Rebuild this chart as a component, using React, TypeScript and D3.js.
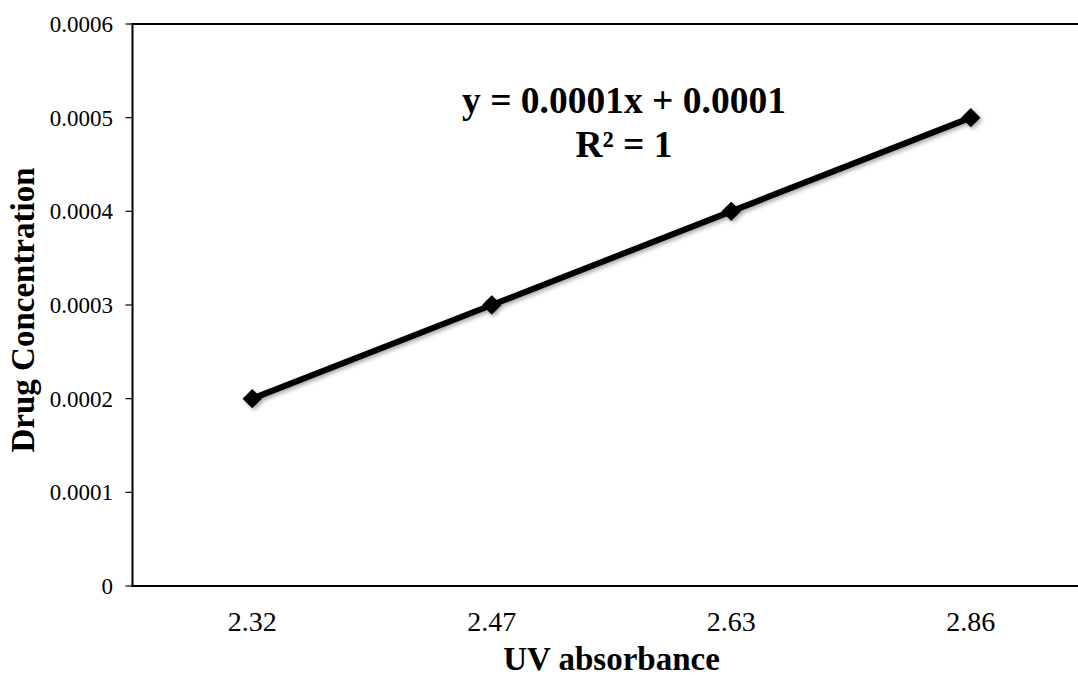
import React from "react";
import * as d3 from "d3";

const categories: string[] = ["2.32", "2.47", "2.63", "2.86"];
const concentration: number[] = [0.0002, 0.0003, 0.0004, 0.0005];
const yTicks: number[] = [0, 0.0001, 0.0002, 0.0003, 0.0004, 0.0005, 0.0006];
const equationLines: string[] = ["y = 0.0001x + 0.0001", "R² = 1"];

const W = 1078;
const H = 677;
const margin = { left: 132.5, top: 24, bottomY: 586, right: 1090.5 };
const FONT = "'Liberation Serif', 'Times New Roman', serif";

export default function App() {
  const x = d3
    .scaleBand<string>()
    .domain(categories)
    .range([margin.left, margin.right])
    .paddingInner(0)
    .paddingOuter(0);
  const y = d3.scaleLinear().domain([0, 0.0006]).range([margin.bottomY, margin.top]);

  const cx = (c: string) => (x(c) as number) + x.bandwidth() / 2;
  const pts: [number, number][] = categories.map((c, i) => [cx(c), y(concentration[i])]);
  const line = d3.line<[number, number]>()(pts) || "";
  const diamond = d3.symbol().type(d3.symbolDiamond2).size(240)() || "";

  const plotCenter = (margin.left + margin.right) / 2;

  return (
    <svg
      width={W}
      height={H}
      style={{ position: "absolute", left: 0, top: 0, background: "#fff" }}
    >
      <defs>
        <filter id="soft" x="-20%" y="-20%" width="140%" height="140%">
          <feGaussianBlur in="SourceAlpha" stdDeviation="2.2" />
          <feOffset dx="1.5" dy="2" result="b" />
          <feComponentTransfer>
            <feFuncA type="linear" slope="0.35" />
          </feComponentTransfer>
          <feMerge>
            <feMergeNode />
            <feMergeNode in="SourceGraphic" />
          </feMerge>
        </filter>
      </defs>

      {/* plot frame: left axis, top edge, baseline */}
      <line x1={margin.left} x2={margin.left} y1={margin.top} y2={margin.bottomY} stroke="#000" strokeWidth={2} />
      <line x1={margin.left - 1} x2={W} y1={margin.top} y2={margin.top} stroke="#000" strokeWidth={2} />
      <line x1={margin.left - 1} x2={W} y1={margin.bottomY} y2={margin.bottomY} stroke="#000" strokeWidth={2} />

      {/* y ticks and labels */}
      {yTicks.map((t) => (
        <g key={t}>
          <line x1={margin.left - 7} x2={margin.left} y1={y(t)} y2={y(t)} stroke="#000" strokeWidth={1.2} />
          <text
            x={113}
            y={y(t)}
            dy="0.35em"
            textAnchor="end"
            fontFamily={FONT}
            fontSize={23}
            fill="#000"
          >
            {t === 0 ? "0" : t.toFixed(4)}
          </text>
        </g>
      ))}

      {/* x category labels */}
      {categories.map((c) => (
        <text key={c} x={cx(c)} y={631} textAnchor="middle" fontFamily={FONT} fontSize={28} fill="#000">
          {c}
        </text>
      ))}

      {/* series */}
      <g filter="url(#soft)">
        <path d={line} fill="none" stroke="#000" strokeWidth={6} strokeLinejoin="round" />
        {pts.map((p, i) => (
          <path key={i} d={diamond} transform={`translate(${p[0]},${p[1]})`} fill="#000" />
        ))}
      </g>

      {/* trendline equation */}
      {equationLines.map((s, i) => (
        <text
          key={s}
          x={624}
          y={113 + i * 44}
          textAnchor="middle"
          fontFamily={FONT}
          fontWeight="bold"
          fontSize={37.5}
          fill="#000"
        >
          {s}
        </text>
      ))}

      {/* axis titles */}
      <text
        x={plotCenter}
        y={670}
        textAnchor="middle"
        fontFamily={FONT}
        fontWeight="bold"
        fontSize={33}
        fill="#000"
      >
        UV absorbance
      </text>
      <text
        transform={`translate(34, 310) rotate(-90)`}
        textAnchor="middle"
        fontFamily={FONT}
        fontWeight="bold"
        fontSize={33}
        fill="#000"
      >
        Drug Concentration
      </text>
    </svg>
  );
}
